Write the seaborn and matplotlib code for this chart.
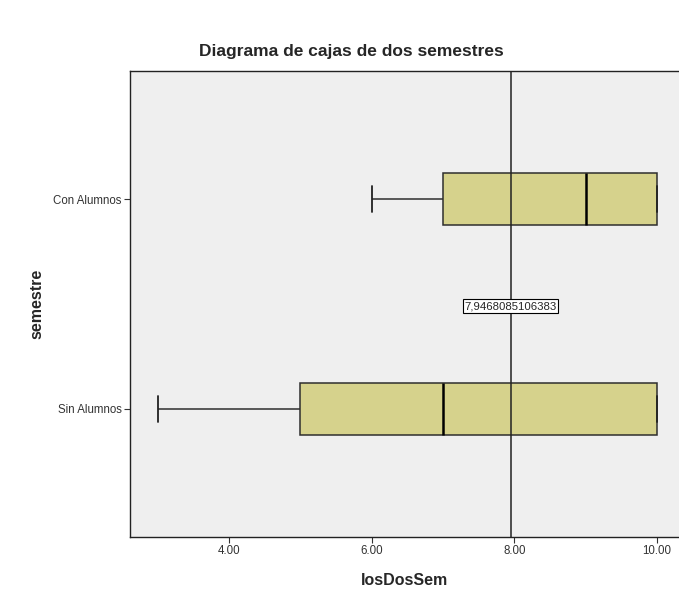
import numpy as np
import pandas as pd
import seaborn as sns
from matplotlib import pyplot as plt

# scores and how many students got each one, per group
scores = [3, 4, 5, 6, 7, 8, 9, 10]
sin_counts = [2, 6, 6, 6, 6, 4, 4, 13]
con_counts = [0, 0, 0, 4, 10, 0, 13, 20]
groups = ['Con Alumnos', 'Sin Alumnos']
x_ticks = [4, 6, 8, 10]

df = pd.concat([
    pd.DataFrame({'losDosSem': np.repeat(scores, con_counts), 'semestre': groups[0]}),
    pd.DataFrame({'losDosSem': np.repeat(scores, sin_counts), 'semestre': groups[1]}),
], ignore_index=True)
mean_val = df['losDosSem'].mean()

sns.set_style('white')
plt.rcParams['font.family'] = ['Liberation Sans', 'DejaVu Sans']

fig = plt.figure(figsize=(6.79, 5.97), dpi=100)
ax = fig.add_axes([0.1915, 0.1005, 0.8085, 0.7805])
ax.set_facecolor('#efefef')

sns.boxplot(
    data=df, x='losDosSem', y='semestre', order=groups, ax=ax,
    color='#d6d28c', saturation=1, width=0.25, linewidth=1.1,
    linecolor='#2e2e2e', showfliers=False,
    medianprops={'color': 'black', 'linewidth': 1.8},
    capprops={'color': '#222222', 'linewidth': 1.3},
)

ax.axvline(mean_val, color='#222222', linewidth=1.1, zorder=5)
ax.text(mean_val, 0.51, f'{mean_val:.13f}'.replace('.', ','), ha='center', va='center',
        fontsize=8.2, zorder=6,
        bbox={'facecolor': 'white', 'edgecolor': 'black', 'linewidth': 0.8, 'pad': 1.2})

ax.set_xlim(2.61, 10.31)
ax.set_ylim(1.61, -0.61)
ax.set_xticks(x_ticks)
ax.set_xticklabels([f'{t:.2f}' for t in x_ticks])
ax.tick_params(axis='both', length=4, width=0.8, labelsize=8.3, colors='#333333', pad=2,
               bottom=True, left=True)
for side in ['left', 'bottom', 'top']:
    ax.spines[side].set_color('#222222')
    ax.spines[side].set_linewidth(1.0)
ax.spines['right'].set_visible(False)

ax.set_xlabel('losDosSem', fontsize=11.5, fontweight='bold', labelpad=11)
ax.set_ylabel('semestre', fontsize=11.5, fontweight='bold')
ax.yaxis.set_label_coords(-0.156, 0.5)
fig.text(0.517, 0.913, 'Diagrama de cajas de dos semestres', ha='center', va='center',
         fontsize=12.5, fontweight='bold')

fig.savefig('out.png', dpi=100)
